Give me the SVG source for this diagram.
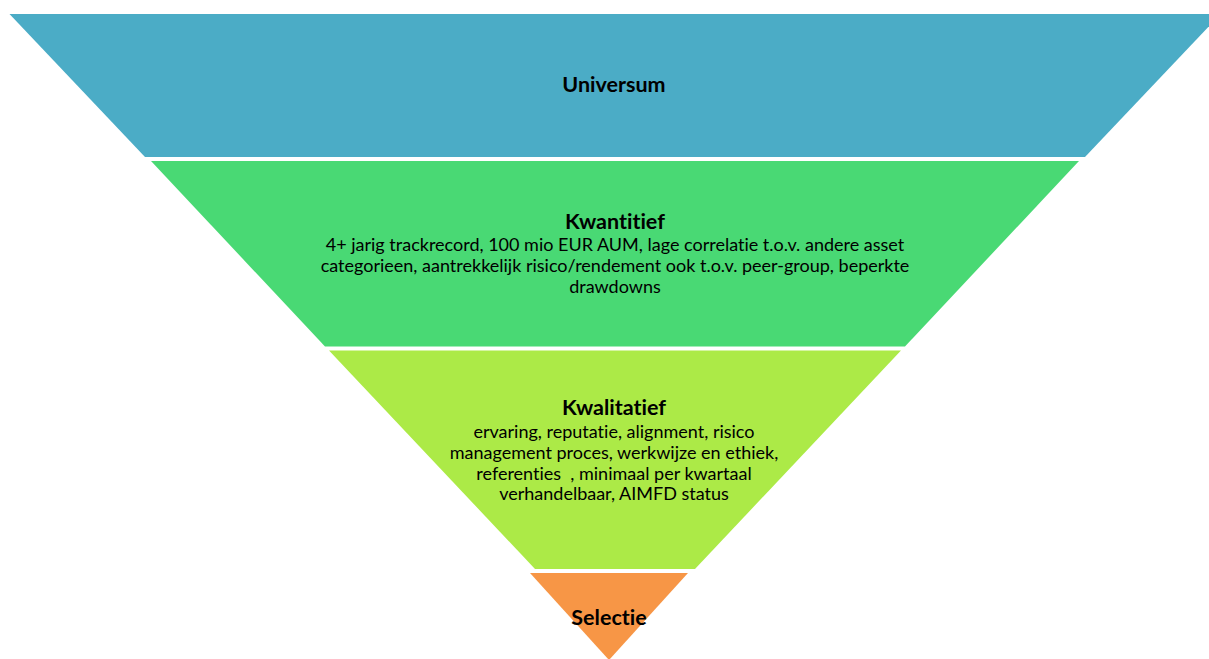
<svg xmlns="http://www.w3.org/2000/svg" width="1209" height="659" viewBox="0 0 1209 659">
<style>
.t{font-family:Lato,"Liberation Sans",sans-serif;fill:#000;text-anchor:middle;font-variant-ligatures:none;white-space:pre}
.h{font-size:21.5px;font-weight:bold}
.b{font-size:18px}
</style>
<rect width="1209" height="659" fill="#fff"/>
<g id="universum">
<polygon points="9.5,14 1220.5,14 1085,157 145,157" fill="#4BACC6"/>
<text class="t h" x="614" y="92">Universum</text>
</g>
<g id="kwantitief">
<polygon points="151,161 1079,161 905,346.5 325,346.5" fill="#49D974"/>
<text class="t h" x="615" y="229">Kwantitief</text>
<text class="t b" x="615" y="251">4+ jarig trackrecord, 100 mio EUR AUM, lage correlatie t.o.v. andere asset</text>
<text class="t b" x="615" y="272">categorieen, aantrekkelijk risico/rendement ook t.o.v. peer-group, beperkte</text>
<text class="t b" x="615" y="293">drawdowns</text>
</g>
<g id="kwalitatief">
<polygon points="329,350.5 901,350.5 695,569 535,569" fill="#ACEA47"/>
<text class="t h" x="614" y="415">Kwalitatief</text>
<text class="t b" x="614" y="438">ervaring, reputatie, alignment, risico</text>
<text class="t b" x="614" y="459">management proces, werkwijze en ethiek,</text>
<text class="t b" x="614" y="480">referenties  , minimaal per kwartaal</text>
<text class="t b" x="614" y="500">verhandelbaar, AIMFD status</text>
</g>
<g id="selectie">
<polygon points="530,573 688,573 609,660" fill="#F79646"/>
<text class="t h" x="609" y="625">Selectie</text>
</g>
<g id="connectors"/>
</svg>
